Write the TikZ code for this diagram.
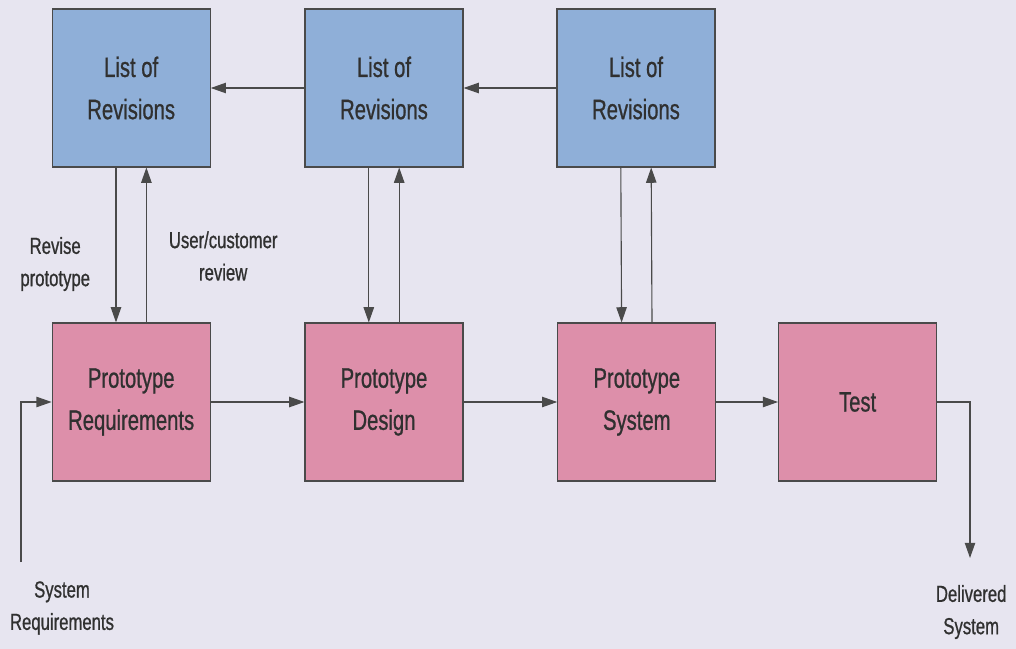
\documentclass[tikz,border=0pt]{standalone}
\usepackage{fontspec}
\setmainfont{Liberation Sans}[FakeStretch=0.72, FakeBold=0.8]
\usepackage{tikz}
\usetikzlibrary{calc}
\usetikzlibrary{positioning}
\usetikzlibrary{arrows.meta}
\definecolor{pagebg}{HTML}{E7E5F0}
\definecolor{revblue}{HTML}{8FAFD8}
\definecolor{protopink}{HTML}{DD8FAA}
\definecolor{inkgray}{HTML}{4A4A4A}
\definecolor{textgray}{HTML}{303030}
\tikzstyle{stagebox} = [draw=inkgray, line width=0.8pt, minimum width=3.95cm, minimum height=3.95cm, align=center, text=textgray, font=\fontsize{20}{30}\selectfont]
\tikzstyle{colorRev} = [fill=revblue]
\tikzstyle{colorProto} = [fill=protopink]
\tikzstyle{flowlabel} = [align=center, text=textgray, font=\fontsize{16.5}{23}\selectfont]
\tikzstyle{flow} = [draw=inkgray, line width=0.8pt, -{Triangle[length=0.38cm, width=0.26cm]}]

\begin{document}
\begin{tikzpicture}
    \fill[pagebg] (0,0) rectangle (25.4,-16.225);
    \useasboundingbox (0,0) rectangle (25.4,-16.225);

    \node[stagebox, colorRev] (rev_one) at (3.28,-2.2) {List of\\Revisions};
    \node[stagebox, colorRev] (rev_two) at ($(rev_one)+(6.32,0)$) {List of\\Revisions};
    \node[stagebox, colorRev] (rev_three) at ($(rev_two)+(6.3,0)$) {List of\\Revisions};

    \node[stagebox, colorProto] (proto_req) at ($(rev_one)+(0,-7.85)$) {Prototype\\Requirements};
    \node[stagebox, colorProto] (proto_design) at ($(proto_req)+(6.32,0)$) {Prototype\\Design};
    \node[stagebox, colorProto] (proto_system) at ($(proto_design)+(6.32,0)$) {Prototype\\System};
    \node[stagebox, colorProto] (test) at ($(proto_system)+(5.52,0)$) {Test};

    \draw[flow] (rev_two) -- (rev_one);
    \draw[flow] (rev_three) -- (rev_two);

    \draw[flow] (proto_req) -- (proto_design);
    \draw[flow] (proto_design) -- (proto_system);
    \draw[flow] (proto_system) -- (test);

    \draw[flow] ($(rev_one.south)+(-0.38,0)$) -- ($(proto_req.north)+(-0.38,0)$);
    \draw[flow] ($(proto_req.north)+(0.38,0)$) -- ($(rev_one.south)+(0.38,0)$);
    \draw[flow] ($(rev_two.south)+(-0.38,0)$) -- ($(proto_design.north)+(-0.38,0)$);
    \draw[flow] ($(proto_design.north)+(0.38,0)$) -- ($(rev_two.south)+(0.38,0)$);
    \draw[flow] ($(rev_three.south)+(-0.38,0)$) -- ($(proto_system.north)+(-0.38,0)$);
    \draw[flow] ($(proto_system.north)+(0.38,0)$) -- ($(rev_three.south)+(0.38,0)$);

    \node[flowlabel] (revise) at (1.38,-6.6) {Revise\\prototype};
    \node[flowlabel] (review) at (5.58,-6.4) {User/customer\\review};

    \coordinate (sys_in) at (0.525,-14.05);
    \coordinate (sys_out) at (24.25,-13.95);
    \draw[flow] (sys_in) |- (proto_req.west);
    \draw[flow] (test.east) -| (sys_out);

    \node[flowlabel] (sys_req) at (1.55,-15.2) {System\\Requirements};
    \node[flowlabel] (delivered) at (24.28,-15.3) {Delivered\\System};
\end{tikzpicture}
\end{document}
